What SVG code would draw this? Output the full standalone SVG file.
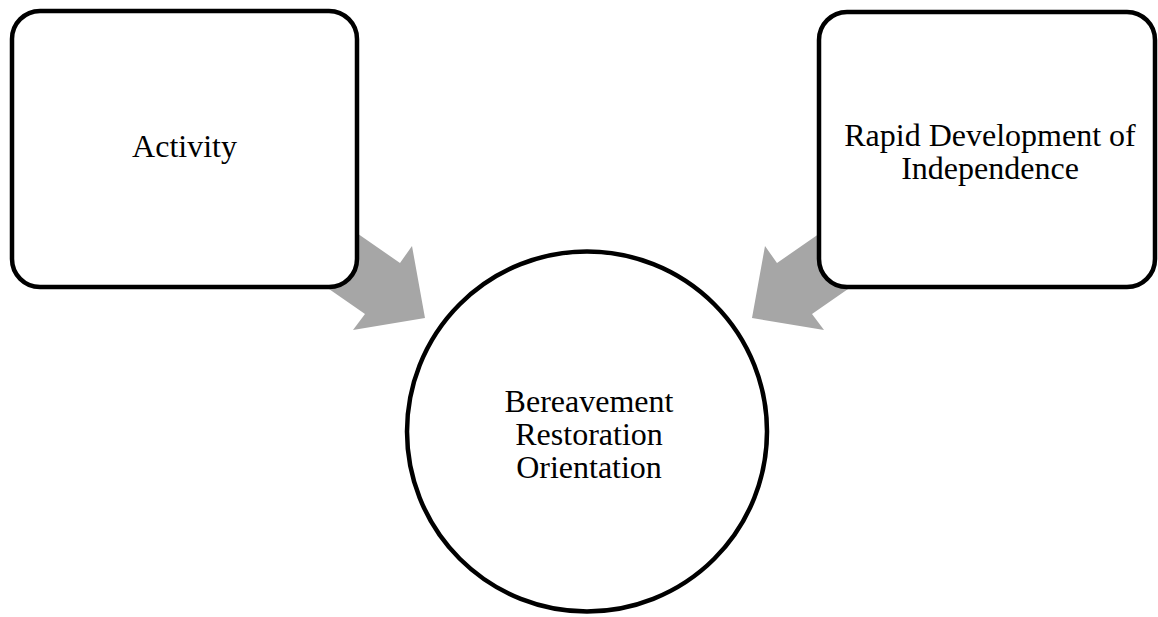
<svg xmlns="http://www.w3.org/2000/svg" width="1158" height="617" viewBox="0 0 1158 617">
  <style>
    .node { fill: #ffffff; stroke: #000000; stroke-width: 4.5; }
    .arrow { fill: #a6a6a6; stroke: none; }
    .label { font-family: "Liberation Serif", "Times New Roman", serif; font-size: 32px; fill: #000000; text-anchor: middle; }
  </style>
  <rect width="1158" height="617" fill="#ffffff"/>

  <!-- block arrows pointing into the centre circle -->
  <g id="connectors">
    <polygon class="arrow" points="351,229 400,263 412,246 425,318 353,330 365,314 316,280"/>
    <polygon class="arrow" points="826,229 777,263 765,246 752,318 824,330 812,314 861,280"/>
  </g>

  <g id="node-activity">
    <rect class="node" x="12" y="11" width="345" height="276" rx="28" ry="28"/>
    <text class="label" x="184.5" y="157">Activity</text>
  </g>

  <g id="node-independence">
    <rect class="node" x="819" y="12" width="336" height="275" rx="28" ry="28"/>
    <text class="label" x="990" y="146">Rapid Development of</text>
    <text class="label" x="990" y="179">Independence</text>
  </g>

  <g id="node-bereavement">
    <circle class="node" cx="587" cy="431.5" r="180"/>
    <text class="label" x="589" y="412">Bereavement</text>
    <text class="label" x="589" y="445">Restoration</text>
    <text class="label" x="589" y="478">Orientation</text>
  </g>
</svg>
